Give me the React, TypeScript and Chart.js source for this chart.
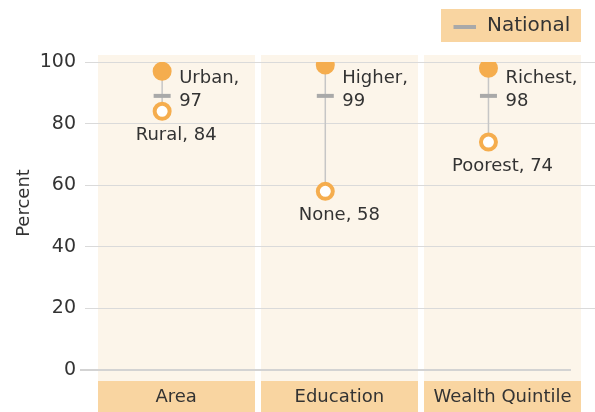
import { useEffect, useRef } from 'react';
import { Chart, registerables } from 'chart.js';

Chart.register(...registerables);

// ---- data ----
const categories = ['Area', 'Education', 'Wealth Quintile'];
const highLabels = ['Urban', 'Higher', 'Richest'];
const highValues = [97, 99, 98];
const lowLabels = ['Rural', 'None', 'Poorest'];
const lowValues = [84, 58, 74];
const nationalValues = [89, 89, 89];
const yTicks = [0, 20, 40, 60, 80, 100];
const legendLabel = 'National';
const yTitle = 'Percent';

// ---- style ----
const FONT = '"DejaVu Sans", sans-serif';
const TEXT = '#333333';
const ORANGE = '#f5ad4e';
const GREY_DASH = '#a9a9a9';
const CONNECT = '#c6c6c6';
const GRID = '#dadada';
const ZERO = '#d3d3d3';
const PANEL_BG = '#fcf5ea';
const BOX_BG = '#f9d5a1';
const PANEL_W = 0.962;
const POINT_OFF = 0.395;
const X_MIN = -0.0778;
const X_MAX = 3.048;

const decoPlugin = {
  id: 'deco',
  beforeDraw(chart: any) {
    const { ctx, scales } = chart;
    const x = scales.x, y = scales.y;
    const top = Math.round(y.getPixelForValue(100) - 7);
    const bot = Math.round(y.getPixelForValue(0) + 11);
    ctx.save();
    categories.forEach((_, i) => {
      const l = Math.round(x.getPixelForValue(i));
      const r = Math.round(x.getPixelForValue(i + PANEL_W));
      ctx.fillStyle = PANEL_BG;
      ctx.fillRect(l, top, r - l, bot - top);
      ctx.fillStyle = BOX_BG;
      ctx.fillRect(l, bot, r - l, chart.height - bot);
    });
    ctx.restore();
  },
  beforeDatasetsDraw(chart: any) {
    const { ctx, scales, chartArea } = chart;
    const x = scales.x, y = scales.y;
    const y0 = y.getPixelForValue(0);
    ctx.save();
    ctx.strokeStyle = ZERO;
    ctx.lineWidth = 2;
    ctx.beginPath();
    ctx.moveTo(chartArea.left - 5, y0);
    ctx.lineTo(x.getPixelForValue(categories.length - 1 + PANEL_W) - 10, y0);
    ctx.stroke();
    ctx.restore();
  },
  afterDatasetsDraw(chart: any) {
    const { ctx, scales } = chart;
    const x = scales.x, y = scales.y;
    ctx.save();
    ctx.fillStyle = TEXT;
    ctx.font = `18px ${FONT}`;
    ctx.textBaseline = 'middle';
    categories.forEach((cat, i) => {
      const px = x.getPixelForValue(i + POINT_OFF);
      const ny = y.getPixelForValue(nationalValues[i]);
      ctx.textAlign = 'left';
      ctx.fillText(`${highLabels[i]},`, px + 17, ny - 18);
      ctx.fillText(`${highValues[i]}`, px + 17, ny + 5.5);
      const cx = x.getPixelForValue(i + PANEL_W / 2);
      ctx.textAlign = 'center';
      ctx.fillText(`${lowLabels[i]}, ${lowValues[i]}`, cx, y.getPixelForValue(lowValues[i]) + 24);
      const bot = y.getPixelForValue(0) + 11;
      ctx.fillText(cat, cx, bot + 16.5);
    });
    // y title
    ctx.save();
    ctx.translate(24, 203);
    ctx.rotate(-Math.PI / 2);
    ctx.textAlign = 'center';
    ctx.fillText(yTitle, 0, 0);
    ctx.restore();
    // legend
    const right = Math.round(x.getPixelForValue(categories.length - 1 + PANEL_W));
    const lx = right - 140;
    ctx.fillStyle = BOX_BG;
    ctx.fillRect(lx, 9, 140, 33);
    ctx.strokeStyle = GREY_DASH;
    ctx.lineWidth = 4;
    ctx.beginPath();
    ctx.moveTo(lx + 12.5, 27);
    ctx.lineTo(lx + 35, 27);
    ctx.stroke();
    ctx.fillStyle = TEXT;
    ctx.font = `20px ${FONT}`;
    ctx.textAlign = 'left';
    ctx.fillText(legendLabel, lx + 46, 25.5);
    ctx.restore();
  },
};

export default function App() {
  const ref = useRef<HTMLCanvasElement>(null);
  useEffect(() => {
    if (!ref.current) return;
    const connectors = categories.map((_, i) => ({
      type: 'line' as const,
      data: [
        { x: i + POINT_OFF, y: highValues[i] },
        { x: i + POINT_OFF, y: lowValues[i] },
      ],
      borderColor: CONNECT,
      borderWidth: 1.5,
      pointRadius: 0,
      order: 10,
    }));
    const chart = new Chart(ref.current, {
      type: 'scatter',
      data: {
        datasets: [
          ...connectors,
          {
            type: 'scatter',
            label: 'National',
            data: nationalValues.map((v, i) => ({ x: i + POINT_OFF, y: v })),
            pointStyle: 'line',
            pointRadius: 8.5,
            borderWidth: 4,
            borderColor: GREY_DASH,
            backgroundColor: GREY_DASH,
            order: 5,
          },
          {
            type: 'scatter',
            label: 'Low',
            data: lowValues.map((v, i) => ({ x: i + POINT_OFF, y: v })),
            pointRadius: 7.5,
            borderWidth: 4,
            borderColor: ORANGE,
            backgroundColor: '#ffffff',
            order: 2,
          },
          {
            type: 'scatter',
            label: 'High',
            data: highValues.map((v, i) => ({ x: i + POINT_OFF, y: v })),
            pointRadius: 8,
            borderWidth: 3,
            borderColor: ORANGE,
            backgroundColor: ORANGE,
            order: 1,
          },
        ] as any,
      },
      options: {
        animation: false,
        responsive: false,
        events: [],
        layout: { autoPadding: false, padding: { top: 62, bottom: 42, left: 0, right: 0 } },
        plugins: { legend: { display: false }, tooltip: { enabled: false } },
        scales: {
          x: {
            type: 'linear',
            display: false,
            min: X_MIN,
            max: X_MAX,
            ticks: { display: false },
          },
          y: {
            min: 0,
            max: 100,
            afterFit: (axis: any) => {
              axis.width = 85;
            },
            afterBuildTicks: (axis: any) => {
              axis.ticks = yTicks.map((v) => ({ value: v }));
            },
            border: { display: false },
            grid: {
              color: (c: any) => (c.tick && c.tick.value === 0 ? 'rgba(0,0,0,0)' : GRID),
              lineWidth: 1,
              drawTicks: false,
            },
            ticks: { padding: 9, color: TEXT, font: { family: FONT, size: 19 } },
          },
        },
      } as any,
      plugins: [decoPlugin],
    });
    return () => chart.destroy();
  }, []);
  return (
    <div style={{ position: 'absolute', left: 0, top: 0, width: 595, height: 412 }}>
      <canvas ref={ref} width={595} height={412} style={{ display: 'block' }} />
    </div>
  );
}
